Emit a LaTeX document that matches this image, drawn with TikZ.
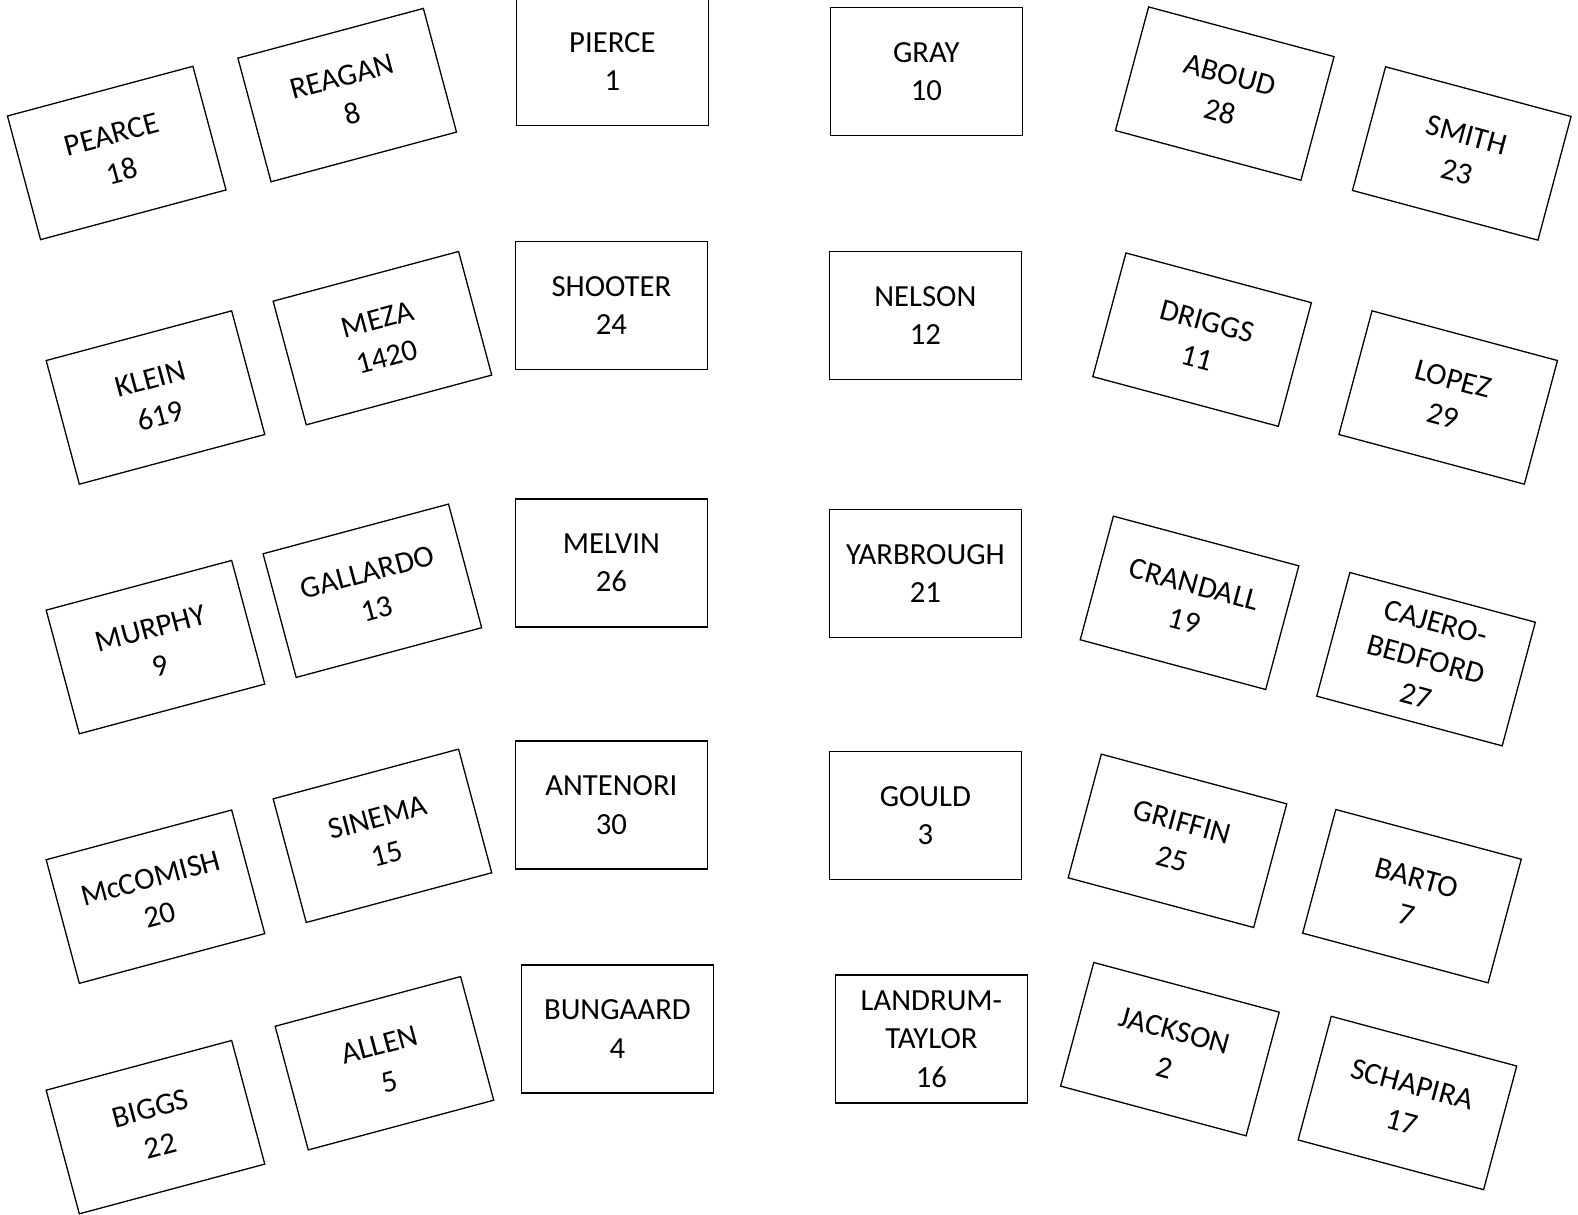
\documentclass[tikz,border=0pt]{standalone}
\usepackage{fontspec}
\setmainfont{Carlito}

\begin{document}
\begin{tikzpicture}[
    x=1.00638pt, y=-1.00638pt,
    mesa/.style={rectangle, draw=black, line width=1.3pt, align=center, inner sep=0pt, minimum width=192pt, minimum height=128pt, font=\fontsize{30.7}{38.3}\selectfont},
    izq/.style={mesa, rotate=15},
    der/.style={mesa, rotate=-15},
]
\useasboundingbox (0,0) rectangle (1568,1207);

% first row
\node (pearce) [izq] at (116,152) {PEARCE\\ 18};
\node (reagan) [izq] at (345,94.5) {REAGAN\\ 8};
\node (pierce) [mesa] at (608.5,61) {PIERCE\\ 1};
\node (gray) [mesa] at (920.5,71) {GRAY\\ 10};
\node (aboud) [der] at (1217,93) {ABOUD\\ 28};
\node (smith) [der] at (1452.5,152.5) {SMITH\\ 23};

% second row
\node (klein) [izq] at (154.5,395) {KLEIN\\ 619};
\node (meza) [izq] at (380,336) {MEZA\\ 1420};
\node (shooter) [mesa] at (607.5,303.5) {SHOOTER\\ 24};
\node (nelson) [mesa] at (919.5,313.5) {NELSON\\ 12};
\node (driggs) [der] at (1194.5,337.5) {DRIGGS\\ 11};
\node (lopez) [der] at (1439,395) {LOPEZ\\ 29};

% third row
\node (murphy) [izq] at (154.5,643) {MURPHY\\ 9};
\node (gallardo) [izq] at (370,587) {GALLARDO\\ 13};
\node (melvin) [mesa] at (607.5,559.5) {MELVIN\\ 26};
\node (yarbrough) [mesa] at (919.5,570) {YARBROUGH\\ 21};
\node (crandall) [der] at (1182,599) {CRANDALL\\ 19};
\node (cajero) [der] at (1417,655) {CAJERO-\\ BEDFORD\\ 27};

% fourth row
\node (mccomish) [izq] at (154.5,891) {McCOMISH\\ 20};
\node (sinema) [izq] at (380,830.5) {SINEMA\\ 15};
\node (antenori) [mesa] at (607.5,800) {ANTENORI\\ 30};
\node (gould) [mesa] at (919.5,810.5) {GOULD\\ 3};
\node (griffin) [der] at (1170,835.5) {GRIFFIN\\ 25};
\node (barto) [der] at (1403,890.5) {BARTO\\ 7};

% fifth row
\node (biggs) [izq] at (154.5,1120) {BIGGS\\ 22};
\node (allen) [izq] at (382,1056.5) {ALLEN\\ 5};
\node (bungaard) [mesa] at (613.5,1022.5) {BUNGAARD\\ 4};
\node (landrum) [mesa] at (925.5,1032.5) {LANDRUM-\\ TAYLOR\\ 16};
\node (jackson) [der] at (1162.5,1042.5) {JACKSON\\ 2};
\node (schapira) [der] at (1398.5,1096) {SCHAPIRA\\ 17};

\end{tikzpicture}
\end{document}
